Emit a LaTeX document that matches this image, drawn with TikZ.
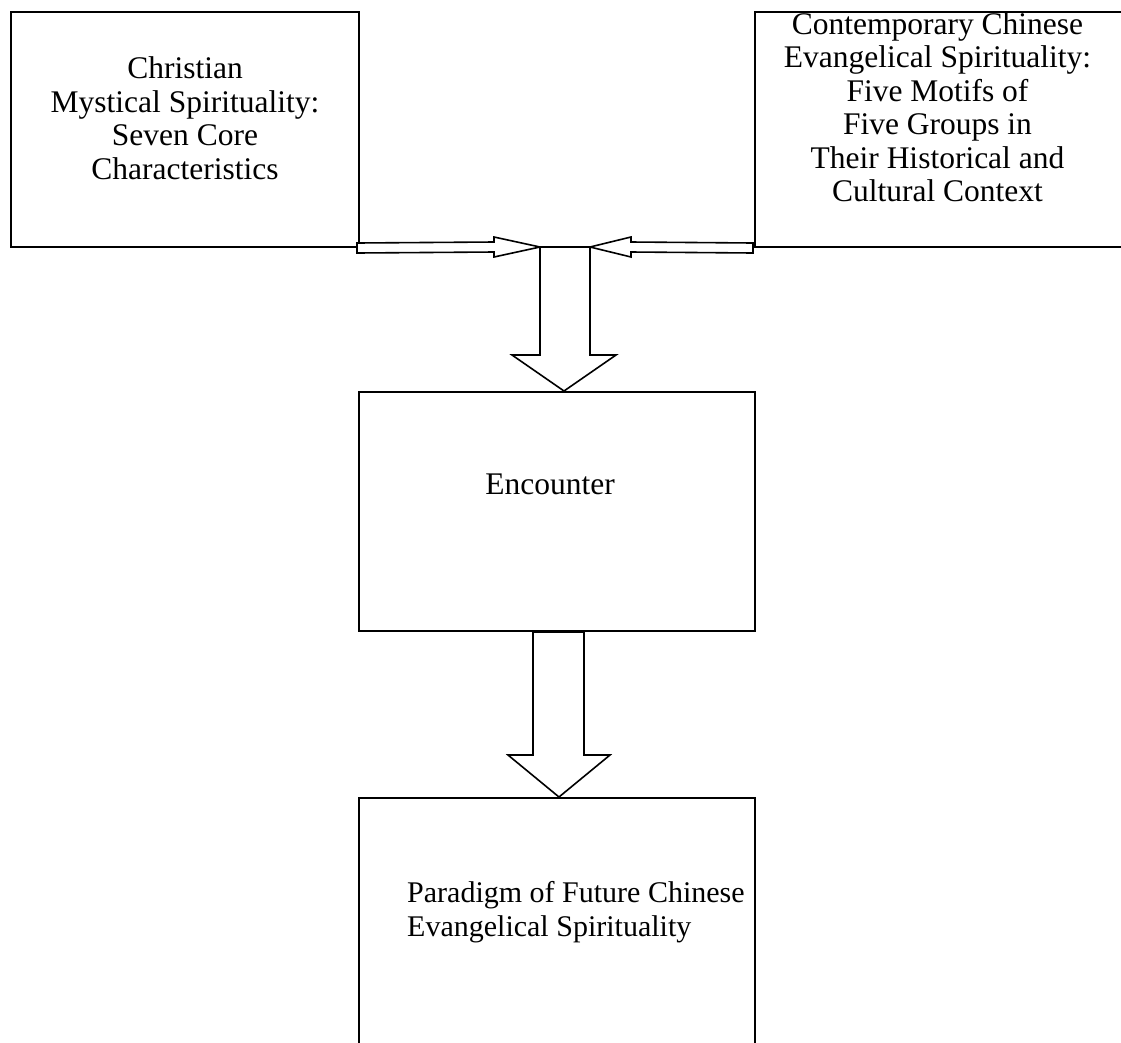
\documentclass[tikz,border=0pt]{standalone}
\usepackage{fontspec}
\setmainfont{Liberation Serif}
\usetikzlibrary{calc}
\begin{document}
\begin{tikzpicture}[x=1pt,y=-1pt,
  box/.style={draw,line width=2pt,inner sep=0pt,rectangle},
  txt/.style={inner sep=0pt,font=\fontsize{31.5}{33.5}\selectfont},
  barrow/.style={draw,line width=1.6pt,fill=white,line join=miter}]
\useasboundingbox (0,0) rectangle (1121,1042);
\clip (0,0) rectangle (1121,1042);
% boxes
\node[box,minimum width=348pt,minimum height=235pt] (b1) at (185,129.5) {};
\node[box,minimum width=375pt,minimum height=235pt] (b2) at (942.5,129.5) {};
\node[box,minimum width=396pt,minimum height=239pt] (b3) at (557,511.5) {};
\node[box,minimum width=396pt,minimum height=302pt] (b4) at (557,949) {};
% texts
\node[txt,align=center] (t1) at (185,118) {Christian\\Mystical Spirituality:\\Seven Core\\Characteristics};
\node[txt,align=center] (t2) at (937.5,107) {Contemporary Chinese\\Evangelical Spirituality:\\Five Motifs of\\Five Groups in\\Their Historical and\\Cultural Context};
\node[txt] (t3) at (550,484) {Encounter};
\node[txt,font=\fontsize{30}{34}\selectfont,align=left,anchor=west] (t4) at (407,912) {Paradigm of Future Chinese\\Evangelical Spirituality};
% junction coordinates
\coordinate (jl) at (540,247);
\coordinate (jr) at (590,247);
\coordinate (la0) at ($(b1.south east)+(-3,0)$);
\coordinate (ra0) at ($(b2.south west)+(-1,0)$);
\coordinate (d1) at ($(b3.north)+(7,0)$);
\coordinate (d2) at ($(b4.north)+(2,0)$);
% left arrow
\draw[barrow] ($(la0)+(0,-5)$) -- ($(jl)+(-46,-5)$) -- ($(jl)+(-46,-10)$) -- (jl)
  -- ($(jl)+(-46,10)$) -- ($(jl)+(-46,5)$) -- ($(la0)+(0,5)$) -- cycle;
% right arrow
\draw[barrow] ($(ra0)+(0,-5)$) -- ($(jr)+(41,-5)$) -- ($(jr)+(41,-10)$) -- (jr)
  -- ($(jr)+(41,10)$) -- ($(jr)+(41,5)$) -- ($(ra0)+(0,5)$) -- cycle;
% down arrow 1
\draw[barrow] (jl) -- ($(jl |- d1)+(0,-36)$) -- ($(d1)+(-52,-36)$) -- (d1)
  -- ($(d1)+(52,-36)$) -- ($(jr |- d1)+(0,-36)$) -- (jr);
\draw[line width=2.5pt] (jl) -- (jr);
% down arrow 2
\draw[barrow] ($(b3.south)+(-24,0)$) -- ($(d2)+(-26,-42)$) -- ($(d2)+(-51,-42)$) -- (d2)
  -- ($(d2)+(51,-42)$) -- ($(d2)+(25,-42)$) -- ($(b3.south)+(27,0)$) -- cycle;
\end{tikzpicture}
\end{document}
